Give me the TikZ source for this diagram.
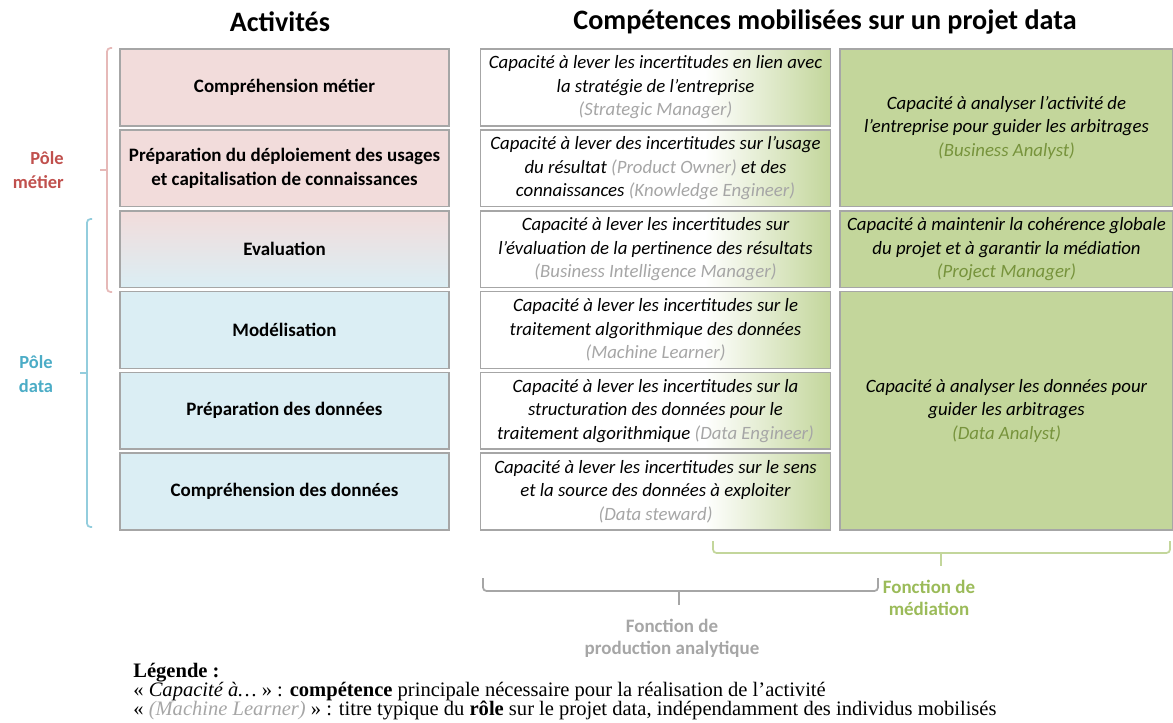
\documentclass[tikz,border=0pt]{standalone}
\usepackage{fontspec}
\setmainfont{Carlito}
\newfontfamily\legfont{Liberation Serif}
\usetikzlibrary{positioning}

\definecolor{pinkfill}{HTML}{F2DCDB}
\definecolor{bluefill}{HTML}{DBEEF4}
\definecolor{greenfill}{HTML}{C3D69B}
\definecolor{boxgray}{HTML}{A6A6A6}
\definecolor{rolegray}{HTML}{A6A6A6}
\definecolor{rolegreen}{HTML}{77933C}
\definecolor{metierred}{HTML}{C0504D}
\definecolor{datablue}{HTML}{4BACC6}
\definecolor{pinkline}{HTML}{E6B9B8}
\definecolor{blueline}{HTML}{93CDDD}
\definecolor{medgreen}{HTML}{9BBB59}

\pgfdeclarehorizontalshading{whitegreen}{100bp}{color(0bp)=(white); color(25bp)=(white); color(57bp)=(white); color(75bp)=(greenfill); color(100bp)=(greenfill)}

\newcommand{\rolegr}[1]{\textcolor{rolegray}{#1}}
\newcommand{\rolegn}[1]{\textcolor{rolegreen}{#1}}

\begin{document}
\begin{tikzpicture}[x=0.02cm, y=-0.02cm,
    actblock/.style={draw=boxgray, line width=0.9pt, minimum width=6.58cm, minimum height=1.535cm, align=center, inner sep=1pt, font=\fontsize{10.8}{13.4}\selectfont\bfseries},
    compblock/.style={draw=boxgray, line width=0.9pt, minimum width=7cm, minimum height=1.535cm, align=center, inner sep=1pt, font=\fontsize{10.7}{13.4}\selectfont\itshape, shading=whitegreen},
    medblock/.style={draw=boxgray, line width=0.9pt, fill=greenfill, minimum width=6.66cm, align=center, inner sep=1pt, font=\fontsize{10.7}{13.4}\selectfont\itshape},
    title/.style={font=\fontsize{16}{19}\selectfont\bfseries},
    pole/.style={font=\fontsize{10.5}{13.4}\selectfont\bfseries, align=center},
    fonction/.style={font=\fontsize{10.8}{12.5}\selectfont\bfseries, align=center},
    bracket/.style={line width=1pt, rounded corners=2pt},
    node distance=0.05cm
]
    \useasboundingbox (0,0) rectangle (1173,723);

    \node [title] (tact) at (280,22) {Activités};
    \node [title] (tcomp) at (825,22) {Compétences mobilisées sur un projet data};

    % activites
    \node [actblock, fill=pinkfill] (cmetier) at (284.5,87.5) {Compréhension métier};
    \node [actblock, fill=pinkfill, below=of cmetier] (prepusage) {Préparation du déploiement des usages\\et capitalisation de connaissances};
    \node [actblock, top color=pinkfill, bottom color=bluefill, below=of prepusage] (eval) {Evaluation};
    \node [actblock, fill=bluefill, below=of eval] (model) {Modélisation};
    \node [actblock, fill=bluefill, below=of model] (prepdata) {Préparation des données};
    \node [actblock, fill=bluefill, below=of prepdata] (cdata) {Compréhension des données};

    % competences
    \node [compblock, right=0.6cm of cmetier] (strat) {Capacité à lever les incertitudes en lien avec\\la stratégie de l’entreprise\\\rolegr{(Strategic Manager)}};
    \node [compblock, below=of strat] (usage) {Capacité à lever des incertitudes sur l’usage\\du résultat \rolegr{(Product Owner)} et des\\connaissances \rolegr{(Knowledge Engineer)}};
    \node [compblock, below=of usage] (bi) {Capacité à lever les incertitudes sur\\l’évaluation de la pertinence des résultats\\\rolegr{(Business Intelligence Manager)}};
    \node [compblock, below=of bi] (ml) {Capacité à lever les incertitudes sur le\\traitement algorithmique des données\\\rolegr{(Machine Learner)}};
    \node [compblock, below=of ml] (de) {Capacité à lever les incertitudes sur la\\structuration des données pour le\\traitement algorithmique \rolegr{(Data Engineer)}};
    \node [compblock, below=of de] (ds) {Capacité à lever les incertitudes sur le sens\\et la source des données à exploiter\\\rolegr{(Data steward)}};

    % mediation
    \node [medblock, minimum height=3.152cm, right=0.16cm of strat.north east, anchor=north west] (ba) {Capacité à analyser l’activité de\\l’entreprise pour guider les arbitrages\\\rolegn{(Business Analyst)}};
    \node [medblock, minimum height=1.535cm, below=of ba] (pm) {Capacité à maintenir la cohérence globale\\du projet et à garantir la médiation\\\rolegn{(Project Manager)}};
    \node [medblock, minimum height=4.769cm, below=of pm] (da) {Capacité à analyser les données pour\\guider les arbitrages\\\rolegn{(Data Analyst)}};

    % poles
    \draw [bracket, pinkline] (112,48) -- (107,48) -- (107,292) -- (112,292);
    \draw [pinkline, line width=1pt] (107,170) -- (100,170);
    \draw [bracket, blueline] (92,219) -- (87,219) -- (87,527) -- (92,527);
    \draw [blueline, line width=1pt] (87,373) -- (80,373);
    \node [pole, text=metierred, align=right, anchor=east, inner sep=0pt] (pmetier) at (64,170) {Pôle\\métier};
    \node [pole, text=datablue] (pdata) at (36,374) {Pôle\\data};

    % fonctions
    \draw [bracket, greenfill] (713,541) -- (713,553) -- (1170,553) -- (1170,541);
    \draw [greenfill, line width=1pt] (941,553) -- (941,566);
    \draw [bracket, boxgray] (483,578) -- (483,591) -- (878,591) -- (878,578);
    \draw [boxgray, line width=1pt] (679,591) -- (679,605);
    \node [fonction, text=medgreen] (fmed) at (929,598) {Fonction de\\médiation};
    \node [fonction, text=boxgray] (fprod) at (672,638) {Fonction de\\production analytique};

    % legende
    \node [anchor=north west, align=left, inner sep=0pt, font={\legfont\fontsize{11.7}{10.7}\selectfont\lineskiplimit=-20pt\relax}] (leg) at (133,663) {\textbf{Légende :}\\
    « \textit{Capacité à…} » : \textbf{compétence} principale nécessaire pour la réalisation de l’activité\\
    « \rolegr{\textit{(Machine Learner)}} » : titre typique du \textbf{rôle} sur le projet data, indépendamment des individus mobilisés};
\end{tikzpicture}
\end{document}
